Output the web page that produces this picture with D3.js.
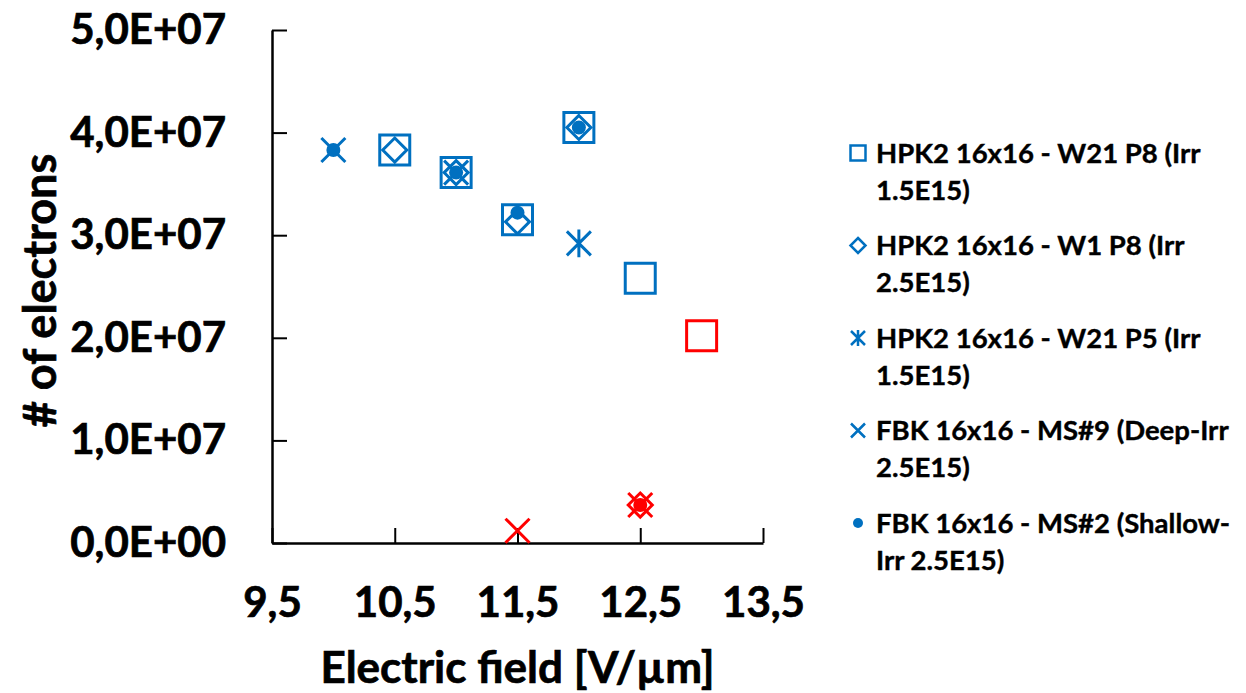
<!DOCTYPE html>
<html>
<head>
<meta charset="utf-8">
<script src="https://cdn.jsdelivr.net/npm/d3@7/dist/d3.min.js"></script>
<style>
  html, body { margin: 0; padding: 0; background: #ffffff; }
  svg { display: block; font-family: Lato, "Open Sans", sans-serif; font-weight: bold; }
</style>
</head>
<body>
<svg id="chart" width="1246" height="693"></svg>
<script>
// Collected charge vs. electric field for irradiated sensors
const xTicks = [9.5, 10.5, 11.5, 12.5, 13.5];
const xTickLabels = ["9,5", "10,5", "11,5", "12,5", "13,5"];
const yTicks = [0, 1e7, 2e7, 3e7, 4e7, 5e7];
const yTickLabels = ["0,0E+00", "1,0E+07", "2,0E+07", "3,0E+07", "4,0E+07", "5,0E+07"];

// HPK2 16x16 - W21 P8 (Irr 1.5E15)
const fieldW21P8 = [10.5, 11.0, 11.5, 12.0, 12.5, 13.0];
const electronsW21P8 = [3.83e7, 3.61e7, 3.15e7, 4.05e7, 2.58e7, 2.02e7];
const flaggedW21P8 = [false, false, false, false, false, true];

// HPK2 16x16 - W1 P8 (Irr 2.5E15)
const fieldW1P8 = [10.5, 11.0, 11.5, 12.0, 12.5];
const electronsW1P8 = [3.83e7, 3.61e7, 3.13e7, 4.05e7, 0.37e7];
const flaggedW1P8 = [false, false, false, false, true];

// HPK2 16x16 - W21 P5 (Irr 1.5E15)
const fieldW21P5 = [12.0];
const electronsW21P5 = [2.92e7];
const flaggedW21P5 = [false];

// FBK 16x16 - MS#9 (Deep-Irr 2.5E15)
const fieldMS9 = [10.0, 11.0, 11.5, 12.5];
const electronsMS9 = [3.83e7, 3.61e7, 0.12e7, 0.37e7];
const flaggedMS9 = [false, false, true, true];

// FBK 16x16 - MS#2 (Shallow-Irr 2.5E15)
const fieldMS2 = [10.0, 11.0, 11.5, 12.0, 12.5];
const electronsMS2 = [3.83e7, 3.61e7, 3.22e7, 4.05e7, 0.37e7];
const flaggedMS2 = [false, false, false, false, true];

const legendLines = [
  ["HPK2 16x16 - W21 P8 (Irr", "1.5E15)"],
  ["HPK2 16x16 - W1 P8 (Irr", "2.5E15)"],
  ["HPK2 16x16 - W21 P5 (Irr", "1.5E15)"],
  ["FBK 16x16 - MS#9 (Deep-Irr", "2.5E15)"],
  ["FBK 16x16 - MS#2 (Shallow-", "Irr 2.5E15)"]
];

const BLUE = "#0070C0";
const RED = "#FF0000";

const svg = d3.select("#chart");
const x = d3.scaleLinear().domain([9.5, 13.5]).range([272, 763]);
const y = d3.scaleLinear().domain([0, 5e7]).range([543, 30]);

// Marker path generators (centred at 0,0)
const markers = {
  square: s => `M${-s},${-s}H${s}V${s}H${-s}Z`,
  diamond: s => `M0,${-s}L${s},0L0,${s}L${-s},0Z`,
  asterisk: s => `M${-s},${-s}L${s},${s}M${s},${-s}L${-s},${s}M0,${-s * 1.15}V${s * 1.15}`,
  cross: s => `M${-s},${-s}L${s},${s}M${s},${-s}L${-s},${s}`
};

// Axes
const yAxis = d3.axisLeft(y)
  .tickValues(yTicks)
  .tickFormat((d, i) => yTickLabels[i])
  .tickSizeInner(-15)
  .tickSizeOuter(0)
  .tickPadding(46);
const xAxis = d3.axisBottom(x)
  .tickValues(xTicks)
  .tickFormat((d, i) => xTickLabels[i])
  .tickSizeInner(-15)
  .tickSizeOuter(0)
  .tickPadding(44);

const gy = svg.append("g").attr("transform", `translate(${x(9.5)},0)`).call(yAxis);
const gx = svg.append("g").attr("transform", `translate(0,${y(0)})`).call(xAxis);
[gx, gy].forEach(g => {
  g.select(".domain").attr("stroke", "#000").attr("stroke-width", 2.5);
  g.selectAll(".tick line").attr("stroke", "#000").attr("stroke-width", 2);
  g.selectAll(".tick text")
    .attr("fill", "#000")
    .attr("stroke", "#000")
    .attr("stroke-width", 0.7)
    .style("font-family", "Lato, 'Open Sans', sans-serif")
    .style("font-weight", "bold")
    .style("font-size", "42px");
});
gx.selectAll(".tick text").attr("dy", "0.71em");

// Axis titles
svg.append("text")
  .attr("x", (x(9.5) + x(13.5)) / 2)
  .attr("y", 683)
  .attr("text-anchor", "middle")
  .attr("stroke", "#000")
  .attr("stroke-width", 0.7)
  .style("font-size", "44px")
  .text("Electric field [V/µm]");

svg.append("text")
  .attr("transform", `translate(56,${(y(0) + y(5e7)) / 2 + 4}) rotate(-90)`)
  .attr("text-anchor", "middle")
  .attr("stroke", "#000")
  .attr("stroke-width", 0.7)
  .style("font-size", "45px")
  .text("# of electrons");

// Series, drawn in order so later ones sit on top
const series = [
  { xs: fieldW21P8, ys: electronsW21P8, flags: flaggedW21P8, kind: "square" },
  { xs: fieldW1P8, ys: electronsW1P8, flags: flaggedW1P8, kind: "diamond" },
  { xs: fieldW21P5, ys: electronsW21P5, flags: flaggedW21P5, kind: "asterisk" },
  { xs: fieldMS9, ys: electronsMS9, flags: flaggedMS9, kind: "cross" },
  { xs: fieldMS2, ys: electronsMS2, flags: flaggedMS2, kind: "dot" }
];

const markerHalf = { square: 15, diamond: 12, asterisk: 12, cross: 12, dot: 7 };

function drawMarker(g, kind, half, color, sw) {
  if (kind === "dot") {
    g.append("circle").attr("r", half).attr("fill", color);
  } else {
    g.append("path")
      .attr("d", markers[kind](half))
      .attr("fill", "none")
      .attr("stroke", color)
      .attr("stroke-width", sw);
  }
}

series.forEach(s => {
  const g = svg.append("g");
  s.xs.forEach((xv, i) => {
    const m = g.append("g").attr("transform", `translate(${x(xv)},${y(s.ys[i])})`);
    drawMarker(m, s.kind, markerHalf[s.kind], s.flags[i] ? RED : BLUE, 3);
  });
});

// Legend
const legendHalf = { square: 7.5, diamond: 7.5, asterisk: 7, cross: 7, dot: 5 };
const legend = svg.append("g");
series.forEach((s, i) => {
  const top = 153 + i * 92.5;
  const m = legend.append("g").attr("transform", `translate(858,${top})`);
  drawMarker(m, s.kind, legendHalf[s.kind], BLUE, 2.5);
  const t = legend.append("text")
    .attr("x", 876)
    .attr("y", top)
    .attr("stroke", "#000")
    .attr("stroke-width", 0.4)
    .style("font-size", "27.5px");
  legendLines[i].forEach((line, j) => {
    t.append("tspan").attr("x", 876).attr("y", top + j * 37).attr("dy", "0.35em").text(line);
  });
});
</script>
</body>
</html>
